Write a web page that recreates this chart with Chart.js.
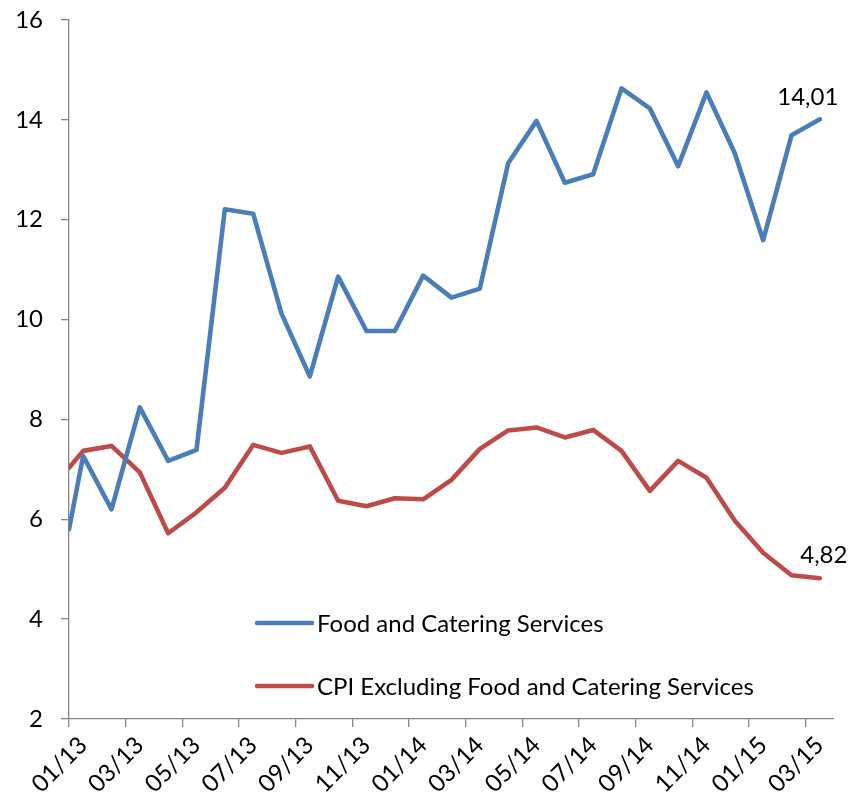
<!DOCTYPE html>
<html>
<head>
<meta charset="utf-8">
<script src="https://cdn.jsdelivr.net/npm/chart.js@4.4.1/dist/chart.umd.min.js"></script>
<style>
  html, body { margin: 0; padding: 0; background: #fff; }
  #wrap { width: 866px; height: 812px; }
</style>
</head>
<body>
<div id="wrap"><canvas id="cpiChart" width="866" height="812"></canvas></div>
<script>
// Month labels (one per category)
const months = [
  "01/13", "02/13", "03/13", "04/13", "05/13", "06/13", "07/13", "08/13", "09/13",
  "10/13", "11/13", "12/13", "01/14", "02/14", "03/14", "04/14", "05/14", "06/14",
  "07/14", "08/14", "09/14", "10/14", "11/14", "12/14", "01/15", "02/15", "03/15"
];

// Values where each line meets the left axis
const foodStart = 5.8;
const cpiStart = 7.03;

// Food and Catering Services
const foodValues = [
  7.27, 6.20, 8.24, 7.17, 7.39, 12.21, 12.12, 10.12, 8.86,
  10.86, 9.77, 9.77, 10.88, 10.44, 10.62, 13.13, 13.98, 12.74,
  12.91, 14.63, 14.23, 13.07, 14.55, 13.33, 11.59, 13.69, 14.01
];

// CPI Excluding Food and Catering Services
const cpiValues = [
  7.37, 7.47, 6.94, 5.72, 6.14, 6.63, 7.49, 7.33, 7.46,
  6.37, 6.26, 6.42, 6.40, 6.79, 7.41, 7.78, 7.84, 7.64,
  7.79, 7.37, 6.57, 7.17, 6.83, 5.97, 5.33, 4.88, 4.82
];

const FONT = { family: "Lato, 'Liberation Sans', sans-serif", size: 24 };
const AXIS_GREY = "#868686";

// category i sits in the middle of its slot
function toPoints(start, values) {
  return [{ x: 0, y: start }].concat(values.map((v, i) => ({ x: i + 0.5, y: v })));
}

// Legend drawn inside the plot, and end-of-line value labels
const insidePlugin = {
  id: "inside",
  afterDatasetsDraw(chart) {
    const ctx = chart.ctx;
    const xs = chart.scales.x, ys = chart.scales.y;
    ctx.save();
    ctx.font = FONT.size + "px " + FONT.family;
    ctx.fillStyle = "#000";

    // last-value labels
    chart.data.datasets.forEach(ds => {
      const last = ds.data[ds.data.length - 1];
      const px = xs.getPixelForValue(last.x);
      const py = ys.getPixelForValue(last.y);
      const off = ds.labelOffset;
      ctx.textAlign = "center";
      ctx.textBaseline = "middle";
      ctx.fillText(last.y.toFixed(2).replace(".", ","), px + off[0], py + off[1]);
    });

    // legend
    const lx = 257, ly0 = 623, gap = 63;
    chart.data.datasets.forEach((ds, di) => {
      const y = ly0 + di * gap;
      ctx.strokeStyle = ds.borderColor;
      ctx.lineWidth = 4.5;
      ctx.lineCap = "round";
      ctx.beginPath();
      ctx.moveTo(lx, y);
      ctx.lineTo(lx + 55, y);
      ctx.stroke();
      ctx.textAlign = "left";
      ctx.textBaseline = "middle";
      ctx.fillText(ds.label, lx + 60, y + 1);
    });
    ctx.restore();
  }
};

const ctx = document.getElementById("cpiChart").getContext("2d");

new Chart(ctx, {
  type: "line",
  data: {
    datasets: [
      {
        label: "Food and Catering Services",
        data: toPoints(foodStart, foodValues),
        borderColor: "#4A7EBB",
        borderWidth: 4.6,
        borderCapStyle: "round",
        borderJoinStyle: "round",
        pointRadius: 0,
        tension: 0,
        clip: 0,
        labelOffset: [-12, -22]
      },
      {
        label: "CPI Excluding Food and Catering Services",
        data: toPoints(cpiStart, cpiValues),
        borderColor: "#BE4B48",
        borderWidth: 4.6,
        borderCapStyle: "round",
        borderJoinStyle: "round",
        pointRadius: 0,
        tension: 0,
        clip: 0,
        labelOffset: [4, -23]
      }
    ]
  },
  options: {
    responsive: false,
    animation: false,
    layout: { padding: { top: 20, right: 32, left: 0, bottom: 0 } },
    plugins: {
      legend: { display: false },
      tooltip: { enabled: false }
    },
    scales: {
      x: {
        type: "linear",
        min: 0,
        max: months.length,
        afterBuildTicks: s => {
          s.ticks = s.ticks.filter(t => t.value % 2 === 0 && t.value < months.length);
        },
        afterFit: s => {
          s.height = 93;
          s.paddingLeft = 0;
          s.paddingRight = 0;
        },
        ticks: {
          stepSize: 2,
          autoSkip: false,
          includeBounds: false,
          minRotation: 45,
          maxRotation: 45,
          labelOffset: 14,
          padding: 4,
          color: "#000",
          font: FONT,
          callback: v => months[v]
        },
        grid: {
          drawOnChartArea: false,
          drawTicks: true,
          tickLength: 8,
          color: AXIS_GREY,
          lineWidth: 1.3
        },
        border: { display: true, color: AXIS_GREY, width: 1.3 }
      },
      y: {
        min: 2,
        max: 16,
        afterFit: s => {
          s.width = 69;
          s.paddingTop = 0;
          s.paddingBottom = 0;
        },
        ticks: {
          stepSize: 2,
          padding: 18,
          color: "#000",
          font: FONT
        },
        grid: {
          drawOnChartArea: false,
          drawTicks: true,
          tickLength: 8,
          color: AXIS_GREY,
          lineWidth: 1.3
        },
        border: { display: true, color: AXIS_GREY, width: 1.3 }
      }
    }
  },
  plugins: [insidePlugin]
});
</script>
</body>
</html>
